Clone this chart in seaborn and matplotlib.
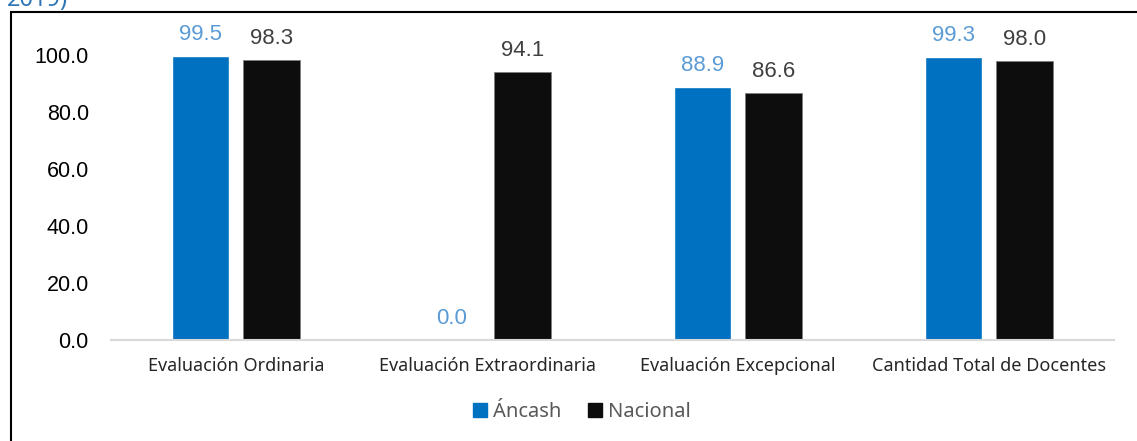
import numpy as np
import pandas as pd
import matplotlib
matplotlib.use("Agg")
from matplotlib import pyplot as plt
from matplotlib.patches import Patch, Rectangle
import seaborn as sns

categories = ["Evaluación Ordinaria", "Evaluación Extraordinaria",
              "Evaluación Excepcional", "Cantidad Total de Docentes"]
series_names = ["Áncash", "Nacional"]
ancash = [99.5, 0.0, 88.9, 99.3]
nacional = [98.3, 94.1, 86.6, 98.0]
y_ticks = [0, 20, 40, 60, 80, 100]

BAR_COLORS = ["#0070C0", "#0D0D0D"]
LABEL_COLORS = ["#5B9BD5", "#404040"]

df = pd.DataFrame({
    "categoria": categories * 2,
    "serie": [series_names[0]] * 4 + [series_names[1]] * 4,
    "valor": ancash + nacional,
})

sns.set_style("white")
plt.rcParams["font.family"] = ["Liberation Sans", "DejaVu Sans"]

fig = plt.figure(figsize=(11.37, 4.41), dpi=100)
ax = fig.add_axes([111 / 1137, 1 - 340 / 441, (1114 - 111) / 1137, (340 - 55) / 441])

sns.barplot(data=df, x="categoria", y="valor", hue="serie", order=categories,
            hue_order=series_names, palette=BAR_COLORS, width=0.567, gap=0.197,
            saturation=1, ax=ax, legend=False)

for cont, col in zip(ax.containers, LABEL_COLORS):
    ax.bar_label(cont, labels=[f"{v:.1f}" for v in cont.datavalues],
                 padding=8, color=col, fontsize=16)
# thin grey edge on the dark bars
for bar in ax.containers[1]:
    bar.set_edgecolor("#7F7F7F")
    bar.set_linewidth(0.6)

ax.set_ylim(0, 100)
ax.set_yticks(y_ticks)
ax.set_yticklabels([f"{t:.1f}" for t in y_ticks], fontsize=15.5, color="#000000")
ax.set_xlabel("")
ax.set_ylabel("")
ax.tick_params(axis="y", length=0, pad=16)
ax.tick_params(axis="x", length=0, pad=12)
for lbl in ax.get_xticklabels():
    lbl.set_fontfamily(["Noto Sans", "DejaVu Sans"])
    lbl.set_fontsize(13)
    lbl.set_color("#262626")

for side in ["left", "right", "top"]:
    ax.spines[side].set_visible(False)
ax.spines["bottom"].set_color("#D9D9D9")
ax.spines["bottom"].set_linewidth(1.5)
ax.set_xlim(-0.5, 3.5)

handles = [Patch(facecolor=c, edgecolor=c) for c in BAR_COLORS]
leg = fig.legend(handles, series_names, loc="center", ncol=2,
                 bbox_to_anchor=(582 / 1137, 1 - 412 / 441), frameon=False,
                 handlelength=0.7, handleheight=0.7, handletextpad=0.3,
                 columnspacing=1.3,
                 prop={"family": ["Noto Sans", "DejaVu Sans"], "size": 14.5})
for t in leg.get_texts():
    t.set_color("#595959")

# outer chart frame, cropped at right and bottom
fig.add_artist(Rectangle((11 / 1137, -0.2), 1.2, 1.2 - 11.5 / 441,
                         transform=fig.transFigure, fill=False,
                         edgecolor="#000000", linewidth=1.5))

# cropped title remnant at the top
fig.text(7 / 1137, 1 - 6 / 441, "2019)", color="#2E75B6", fontsize=17,
         fontweight="bold", ha="left", va="baseline",
         family=["Noto Sans", "DejaVu Sans"])

fig.savefig("out.png", dpi=100)
